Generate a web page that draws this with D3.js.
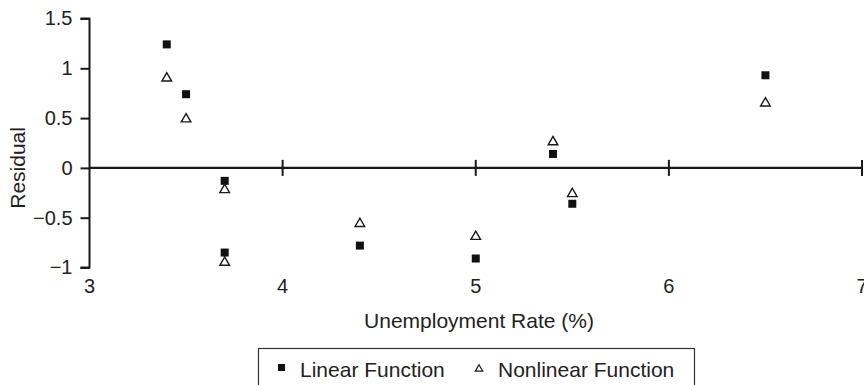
<!DOCTYPE html>
<html>
<head>
<meta charset="utf-8">
<script src="https://cdn.jsdelivr.net/npm/d3@7"></script>
<style>
  html, body { margin: 0; padding: 0; background: #fff; }
  svg text { font-family: "Liberation Sans", Arial, Helvetica, sans-serif; fill: #222; }
</style>
</head>
<body>
<svg id="chart" width="864" height="385"></svg>
<script>
// Residuals of the two fitted functions against the unemployment rate
const unemployment = [3.4, 3.5, 3.7, 3.7, 4.4, 5.0, 5.4, 5.5, 6.5];
const linearResidual = [1.24, 0.74, -0.13, -0.85, -0.78, -0.91, 0.14, -0.36, 0.93];
const nonlinearResidual = [0.91, 0.50, -0.21, -0.94, -0.55, -0.68, 0.27, -0.25, 0.66];
const xTicks = [3, 4, 5, 6, 7];
const yTicks = [-1, -0.5, 0, 0.5, 1, 1.5];
const seriesNames = ["Linear Function", "Nonlinear Function"];

const svg = d3.select("#chart");
const x = d3.scaleLinear().domain([3, 7]).range([89.5, 862]);
const y = d3.scaleLinear().domain([-1, 1.5]).range([267.5, 18.5]);
const ink = "#1a1a1a";
const fmt = d => (d < 0 ? "\u2212" : "") + String(Math.abs(d));

// Y axis with ticks to the left
const yAxis = d3.axisLeft(y).tickValues(yTicks).tickSize(9).tickPadding(8).tickFormat(fmt);
const gy = svg.append("g").attr("transform", `translate(${x(3)},0)`).call(yAxis);
gy.select(".domain").attr("d", `M-9,${y(1.5)}H0V${y(-1)}H-9`).attr("stroke", ink).attr("stroke-width", 2);
gy.selectAll(".tick line").attr("stroke", ink).attr("stroke-width", 2);
gy.selectAll(".tick text").attr("font-size", 20).attr("fill", "#222")
  .style("font-family", "'Liberation Sans', Arial, sans-serif");

// Zero line carrying the x ticks
svg.append("line")
  .attr("x1", x(3)).attr("x2", x(7)).attr("y1", y(0)).attr("y2", y(0))
  .attr("stroke", ink).attr("stroke-width", 2.2);
svg.append("g").selectAll("line")
  .data(xTicks.filter(d => d > 3))
  .join("line")
  .attr("x1", d => x(d)).attr("x2", d => x(d))
  .attr("y1", y(0) - 8).attr("y2", y(0) + 8)
  .attr("stroke", ink).attr("stroke-width", 2);

// X tick labels along the bottom
svg.append("g").selectAll("text")
  .data(xTicks)
  .join("text")
  .attr("x", d => x(d)).attr("y", 293)
  .attr("text-anchor", "middle").attr("font-size", 20)
  .text(d => d);

// Axis titles
svg.append("text")
  .attr("transform", `translate(25,${y(0)}) rotate(-90)`)
  .attr("text-anchor", "middle").attr("font-size", 21)
  .text("Residual");
svg.append("text")
  .attr("x", 479).attr("y", 328)
  .attr("text-anchor", "middle").attr("font-size", 21)
  .text("Unemployment Rate (%)");

// Markers
const sq = 8;
const tri = d3.symbol().type(d3.symbolTriangle).size(40);

svg.append("g").selectAll("path")
  .data(unemployment.map((u, i) => [u, nonlinearResidual[i]]))
  .join("path")
  .attr("d", tri)
  .attr("transform", d => `translate(${x(d[0])},${y(d[1]) + 1})`)
  .attr("fill", "#fff").attr("stroke", ink).attr("stroke-width", 1.4);

svg.append("g").selectAll("rect")
  .data(unemployment.map((u, i) => [u, linearResidual[i]]))
  .join("rect")
  .attr("x", d => x(d[0]) - sq / 2).attr("y", d => y(d[1]) - sq / 2)
  .attr("width", sq).attr("height", sq)
  .attr("fill", "#111");

// Legend
const legend = svg.append("g");
legend.append("rect")
  .attr("x", 258.5).attr("y", 348.5).attr("width", 436).attr("height", 50)
  .attr("fill", "none").attr("stroke", "#333").attr("stroke-width", 1.2);
legend.append("rect")
  .attr("x", 278).attr("y", 364).attr("width", 7).attr("height", 7).attr("fill", "#111");
legend.append("path")
  .attr("d", d3.symbol().type(d3.symbolTriangle).size(24))
  .attr("transform", "translate(479,369)")
  .attr("fill", "#fff").attr("stroke", ink).attr("stroke-width", 1.2);
legend.append("text").attr("x", 300).attr("y", 377).attr("font-size", 21).text(seriesNames[0]);
legend.append("text").attr("x", 498).attr("y", 377).attr("font-size", 21).text(seriesNames[1]);
</script>
</body>
</html>
